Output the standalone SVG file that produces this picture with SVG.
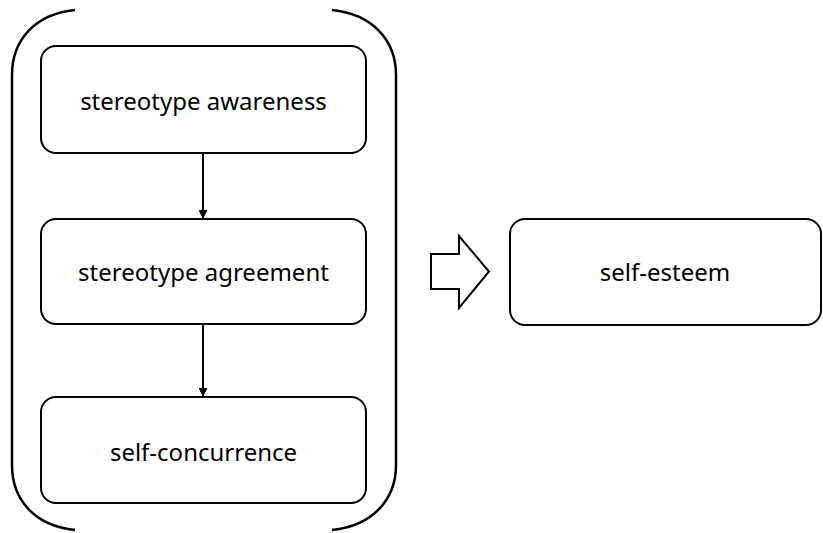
<svg xmlns="http://www.w3.org/2000/svg" width="823" height="533" viewBox="0 0 823 533">
<defs>
<style>
.box{fill:#fff;stroke:#000;stroke-width:2}
.lbl{font-family:"Noto Sans","Open Sans",sans-serif;font-size:24px;fill:#000;text-anchor:middle;dominant-baseline:central}
.con{stroke:#000;stroke-width:2;fill:none}
</style>
<marker id="ah" markerWidth="9" markerHeight="9" refX="8" refY="4.5" orient="auto" markerUnits="userSpaceOnUse">
<path d="M0,0 L9,4.5 L0,9 Z" fill="#000"/>
</marker>
</defs>
<g id="bracket" fill="none" stroke="#000" stroke-width="2.5">
<path d="M75,10 C35,14 12,40 12,75 L12,465 C12,500 35,526 75,530"/>
<path d="M332,10 C372,14 396,40 396,75 L396,465 C396,500 372,526 332,530"/>
</g>
<g id="n1"><rect class="box" x="41" y="46" width="325" height="107" rx="15"/><text class="lbl" x="203.5" y="100">stereotype awareness</text></g>
<g id="n2"><rect class="box" x="41" y="219" width="325" height="105" rx="15"/><text class="lbl" x="203.5" y="271">stereotype agreement</text></g>
<g id="n3"><rect class="box" x="41" y="397" width="325" height="106" rx="15"/><text class="lbl" x="203.5" y="451">self-concurrence</text></g>
<g id="n4"><rect class="box" x="510" y="219" width="311" height="106" rx="15"/><text class="lbl" x="665" y="271">self-esteem</text></g>
<g id="block-arrow"><path d="M431,254 L459,254 L459,236 L489,271.5 L459,308 L459,289 L431,289 Z" fill="#fff" stroke="#000" stroke-width="2"/></g>
<g id="connectors">
<line class="con" x1="203" y1="153" x2="203" y2="218" marker-end="url(#ah)"/>
<line class="con" x1="203" y1="324" x2="203" y2="396" marker-end="url(#ah)"/>
</g>
</svg>
